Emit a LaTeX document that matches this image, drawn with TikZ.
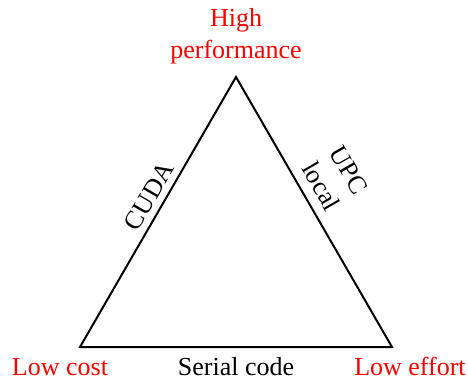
\documentclass[tikz,border=0pt]{standalone}
\usepackage{fontspec}
\setmainfont{Liberation Serif}
\usetikzlibrary{positioning}

\begin{document}
\begin{tikzpicture}[x=0.75pt,y=-0.75pt,font=\fontsize{19.5}{24}\selectfont]
       \tikzstyle{goal}=[text=red,align=center,inner sep=0pt]
       \tikzstyle{side}=[align=center,inner sep=0pt]
       \useasboundingbox (0,0) rectangle (468,379);

       \coordinate (hp) at (236,77);
       \coordinate (lc) at (80,347);
       \coordinate (le) at (392,347);

       \node[goal,anchor=south] (hp_t) at (236,64.5) {High\\performance};
       \node[goal,anchor=base] (lc_t) at (60,375) {Low cost};
       \node[goal,anchor=base] (le_t) at (410,375) {Low effort};
       \node[side,anchor=base] (serial) at (236,375) {Serial code};

       \draw[line width=1.5pt,line join=miter]
       (hp) -- node[side,sloped,above=4.5pt,pos=0.47] (cuda) {CUDA} (lc)
            -- (le)
            -- node[side,sloped,above=7pt,pos=0.56] (upc) {UPC\\local} cycle;
     \end{tikzpicture}
\end{document}
